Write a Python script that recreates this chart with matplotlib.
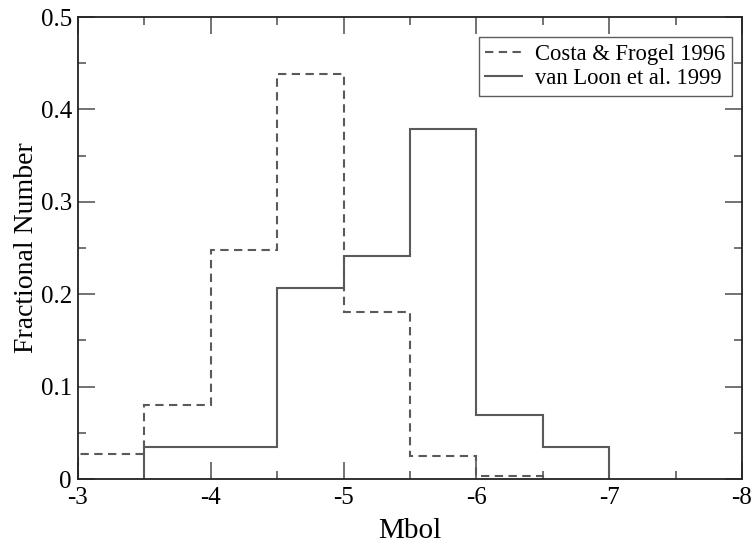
import matplotlib
matplotlib.use("Agg")
import matplotlib.pyplot as plt
import numpy as np
from matplotlib.ticker import MultipleLocator

# Data
costa_edges = [-3.0, -3.5, -4.0, -4.5, -5.0, -5.5, -6.0, -6.5]
costa_values = [0.027, 0.080, 0.248, 0.438, 0.181, 0.025, 0.003]
vanloon_edges = [-3.5, -4.0, -4.5, -5.0, -5.5, -6.0, -6.5, -7.0]
vanloon_values = [0.035, 0.035, 0.207, 0.241, 0.379, 0.069, 0.035]
costa_label = "Costa & Frogel 1996"
vanloon_label = "van Loon et al. 1999"
xticks = [-3, -4, -5, -6, -7, -8]
yticks = [0, 0.1, 0.2, 0.3, 0.4, 0.5]
ytick_labels = ["0", "0.1", "0.2", "0.3", "0.4", "0.5"]

plt.rcParams['font.family'] = ['Liberation Serif', 'DejaVu Serif']

fig = plt.figure(figsize=(7.56, 5.46), dpi=100)
ax = fig.add_axes([78/756, 1 - 479/546, (742-78)/756, (479-17)/546])

col = "#5a5a5a"
ax.stairs(costa_values, costa_edges, baseline=0, color=col, lw=1.5,
          linestyle=(0, (4, 2.6)), label=costa_label)
ax.stairs(vanloon_values, vanloon_edges, baseline=0, color=col, lw=1.5,
          linestyle='-', label=vanloon_label)

ax.set_xlim(-3, -8)
ax.set_ylim(0, 0.5)
ax.set_xticks(xticks)
ax.set_xticklabels([str(t) for t in xticks])
ax.set_yticks(yticks)
ax.set_yticklabels(ytick_labels)
ax.xaxis.set_minor_locator(MultipleLocator(0.5))
ax.yaxis.set_minor_locator(MultipleLocator(0.05))
ax.tick_params(which='both', direction='in', top=True, right=True,
               color=col, labelsize=18, width=1.2)
ax.tick_params(which='major', length=12, pad=4.5)
ax.tick_params(axis='x', which='major', pad=5.5)
ax.tick_params(which='minor', length=6)
for s in ax.spines.values():
    s.set_linewidth(1.3)
    s.set_color('#222222')

ax.set_xlabel("Mbol", fontsize=21, labelpad=7)
ax.set_ylabel("Fractional Number", fontsize=20, labelpad=1)

leg = ax.legend(loc='upper right', fontsize=16.3, frameon=True, fancybox=False,
                handlelength=1.6, handletextpad=0.6, borderpad=0.3,
                labelspacing=0.15, borderaxespad=0,
                bbox_to_anchor=(0.985, 0.957))
leg.get_frame().set_edgecolor('#333333')
leg.get_frame().set_linewidth(1.0)

fig.savefig("out.png", dpi=100)
